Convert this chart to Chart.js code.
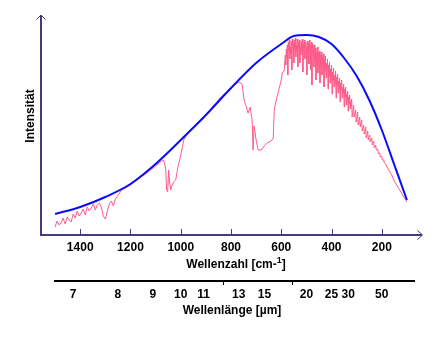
<!DOCTYPE html>
<html>
<head>
<meta charset="utf-8">
<script src="https://cdn.jsdelivr.net/npm/chart.js@4/dist/chart.umd.min.js"></script>
<style>
  html, body { margin: 0; padding: 0; background: #ffffff; }
  #wrap { width: 433px; height: 338px; }
</style>
</head>
<body>
<div id="wrap"><canvas id="c" width="433" height="338"></canvas></div>
<script>
// Wavenumber ticks [cm-1] of the main axis
const wavenumberTicks = [1400, 1200, 1000, 800, 600, 400, 200];
// Wavelength labels [µm] of the secondary axis, and unlabeled marks
const wavelengthLabels = [7, 8, 9, 10, 11, 13, 15, 20, 25, 30, 50];
const wavelengthMarks = [12, 18];

// Blackbody envelope (relative intensity)
const planckWavenumber = [1500, 1400, 1300, 1200, 1100, 1000, 900, 800, 700, 600, 550, 500, 450, 400, 350, 300, 250, 200, 150, 100];
const planckIntensity  = [21, 28, 38, 51, 71, 95, 120, 147, 172, 191, 199, 200, 198, 191, 177, 159, 135, 105, 70, 35];

// Measured outgoing spectrum (relative intensity)
const spectrumWavenumber = [
  1500, 1492, 1484, 1476, 1468, 1460, 1452, 1444, 1436, 1428, 1420, 1412, 1404, 1396, 1388, 1380,
  1372, 1364, 1356, 1348, 1340, 1332, 1324, 1316, 1308, 1300, 1292, 1284, 1276, 1268, 1260, 1248,
  1236, 1220, 1200, 1180, 1160, 1140, 1120, 1100, 1080, 1068, 1060, 1056, 1052, 1048, 1044, 1040,
  1036, 1028, 1020, 1012, 1000, 988, 972, 952, 920, 880, 840, 800, 780, 768, 756, 748, 740, 732,
  724, 716, 712, 708, 700, 692, 680, 668, 656, 640, 632, 628, 620, 612, 608, 600, 596, 588,
  584, 582, 580, 578, 576, 574, 572, 570, 568, 566, 564, 562, 560, 558, 556, 554, 552, 550,
  548, 546, 544, 542, 540, 538, 536, 534, 532, 530, 528, 526, 524, 522, 520, 518, 516, 514,
  512, 510, 508, 506, 504, 502, 500, 498, 496, 494, 492, 490, 488, 486, 484, 482, 480, 478,
  476, 474, 472, 470, 468, 466, 464, 462, 460, 458, 456, 454, 452, 450, 448, 446, 444, 442,
  440, 438, 436, 434, 432, 430, 428, 426, 424, 422, 420, 418, 416, 414, 412, 410, 408, 406,
  404, 402, 400, 398, 396, 394, 392, 390, 388, 386, 384, 382, 380, 378, 376, 374, 372, 370,
  368, 366, 364, 362, 360, 358, 356, 354, 352, 350, 348, 346, 344, 342, 340, 338, 336, 334,
  332, 330, 328, 326, 324, 322, 320, 318,
  312, 310, 304, 302, 296, 294, 288, 286, 280, 278, 272, 270, 264, 262, 256, 254, 248, 246,
  240, 238, 232, 230, 224, 222, 216, 214, 208, 206, 200, 198, 192, 190, 184, 182, 176, 174,
  168, 166, 160, 158, 148, 136, 124, 112, 100
];
const spectrumIntensity = [
  8, 14, 10, 12, 17, 11, 18, 15, 13, 21, 17, 24, 19, 22, 26, 20,
  28, 24, 27, 31, 25, 30, 32, 28, 19, 16, 24, 31, 34, 29, 36, 40,
  45, 47, 50, 54, 58, 61, 65, 69, 73, 75, 67, 45, 43, 65, 53, 45,
  49, 53, 55, 67, 80, 95, 102, 107, 114, 126, 138, 146, 151, 153, 151, 135, 129, 122,
  128, 115, 85, 109, 95, 85, 85, 89, 92, 94, 97, 125, 135, 143, 147, 155, 162, 165,
  180, 170, 186, 178, 190, 160, 193, 184, 195, 176, 188, 181, 194, 165, 196, 190, 192, 172,
  195, 186, 197, 178, 190, 183, 196, 168, 193, 188, 195, 172, 189, 180, 194, 185, 196, 163,
  191, 184, 195, 176, 193, 187, 188, 160, 194, 181, 192, 171, 195, 186, 190, 165, 193, 150,
  191, 182, 186, 168, 190, 176, 187, 155, 183, 170, 188, 162, 182, 177, 184, 152, 180, 168,
  183, 160, 178, 171, 181, 148, 176, 164, 179, 157, 172, 167, 176, 146, 170, 160, 173, 152,
  166, 158, 170, 141, 163, 155, 167, 148, 160, 152, 164, 137, 158, 150, 161, 142, 154, 146,
  157, 133, 152, 145, 155, 137, 148, 142, 151, 128, 146, 138, 148, 130, 141, 135, 144, 124,
  138, 131, 140, 126, 134, 129, 136, 118,
  130, 118, 125, 113, 123, 110, 118, 108, 115, 104, 110, 101, 108, 97, 104, 95, 100, 93,
  97, 90, 94, 87, 90, 85, 86, 81, 82, 78, 79, 75, 75, 72, 71, 69, 67, 65,
  64, 62, 60, 58, 53, 48, 43, 38, 33
];

const FONT = '"Liberation Sans", Arial, Helvetica, sans-serif';
const AXIS_COLOR = '#453b7c';

function toPoints(xs, ys) {
  return xs.map((x, i) => ({ x: x, y: ys[i] }));
}

// Axes with arrowheads, inner ticks, titles and the wavelength scale
const framePlugin = {
  id: 'frame',
  afterDraw(chart) {
    const ctx = chart.ctx;
    const a = chart.chartArea;
    const xs = chart.scales.x;
    ctx.save();

    // axis lines
    ctx.strokeStyle = AXIS_COLOR;
    ctx.lineWidth = 2;
    ctx.beginPath();
    ctx.moveTo(a.left, a.top + 1);
    ctx.lineTo(a.left, a.bottom);
    ctx.lineTo(a.right + 1, a.bottom);
    ctx.stroke();

    // arrowheads
    ctx.lineWidth = 1;
    ctx.beginPath();
    ctx.moveTo(a.left - 4.5, a.top + 4.5);
    ctx.lineTo(a.left, a.top);
    ctx.lineTo(a.left + 4.5, a.top + 4.5);
    ctx.moveTo(a.right - 3.5, a.bottom - 4.5);
    ctx.lineTo(a.right + 1.5, a.bottom);
    ctx.lineTo(a.right - 3.5, a.bottom + 4.5);
    ctx.stroke();

    // inner tick marks on the wavenumber axis
    ctx.beginPath();
    wavenumberTicks.forEach(v => {
      const px = Math.round(xs.getPixelForValue(v)) + 0.5;
      ctx.moveTo(px, a.bottom - 6);
      ctx.lineTo(px, a.bottom);
    });
    ctx.stroke();

    ctx.fillStyle = '#000000';

    // wavenumber title with superscript
    const t1 = 'Wellenzahl [cm-';
    const t2 = '1';
    const t3 = ']';
    ctx.font = 'bold 12px ' + FONT;
    const w1 = ctx.measureText(t1).width;
    const w3 = ctx.measureText(t3).width;
    ctx.font = 'bold 9px ' + FONT;
    const w2 = ctx.measureText(t2).width;
    const total = w1 + w2 + w3;
    const tx = 236 - total / 2;
    const ty = 268;
    ctx.textAlign = 'left';
    ctx.textBaseline = 'alphabetic';
    ctx.font = 'bold 12px ' + FONT;
    ctx.fillText(t1, tx, ty);
    ctx.font = 'bold 9px ' + FONT;
    ctx.fillText(t2, tx + w1, ty - 5);
    ctx.font = 'bold 12px ' + FONT;
    ctx.fillText(t3, tx + w1 + w2, ty);

    // wavelength scale
    const lineY = 281;
    ctx.strokeStyle = '#000000';
    ctx.lineWidth = 2;
    ctx.beginPath();
    ctx.moveTo(54, lineY);
    ctx.lineTo(415, lineY);
    ctx.stroke();
    ctx.lineWidth = 1;
    ctx.beginPath();
    wavelengthMarks.forEach(um => {
      const px = Math.round(xs.getPixelForValue(10000 / um)) + 0.5;
      ctx.moveTo(px, lineY);
      ctx.lineTo(px, lineY + 4);
    });
    ctx.stroke();

    ctx.font = 'bold 12px ' + FONT;
    ctx.textAlign = 'center';
    ctx.textBaseline = 'alphabetic';
    wavelengthLabels.forEach(um => {
      const px = xs.getPixelForValue(10000 / um);
      ctx.fillText(String(um), px, 298);
    });
    ctx.fillText('Wellenlänge [µm]', 232, 314);

    // vertical title
    ctx.save();
    ctx.translate(34, 116);
    ctx.rotate(-Math.PI / 2);
    ctx.textAlign = 'center';
    ctx.textBaseline = 'alphabetic';
    ctx.fillText('Intensität', 0, 0);
    ctx.restore();

    ctx.restore();
  }
};

new Chart(document.getElementById('c'), {
  type: 'line',
  data: {
    datasets: [
      {
        label: 'Planck',
        data: toPoints(planckWavenumber, planckIntensity),
        borderColor: '#0a0aff',
        borderWidth: 2,
        pointRadius: 0,
        cubicInterpolationMode: 'monotone',
        fill: false
      },
      {
        label: 'Spektrum',
        data: toPoints(spectrumWavenumber, spectrumIntensity),
        borderColor: '#ff5c8a',
        borderWidth: 1,
        pointRadius: 0,
        tension: 0,
        fill: false
      }
    ]
  },
  options: {
    responsive: false,
    animation: false,
    devicePixelRatio: 1,
    layout: { padding: { left: 41, top: 15, right: 12, bottom: 0 } },
    plugins: { legend: { display: false }, tooltip: { enabled: false } },
    scales: {
      x: {
        type: 'linear',
        reverse: true,
        min: 44,
        max: 1556,
        grid: { display: false, drawTicks: false },
        border: { display: false },
        afterBuildTicks: (scale) => { scale.ticks = wavenumberTicks.map(v => ({ value: v })); },
        afterFit: (scale) => { scale.height = 103; },
        ticks: {
          color: '#000000',
          font: { family: FONT, size: 12, weight: 'bold' },
          padding: 5,
          maxRotation: 0,
          autoSkip: false,
          callback: (v) => String(v)
        }
      },
      y: {
        display: false,
        min: 0,
        max: 220
      }
    }
  },
  plugins: [framePlugin]
});
</script>
</body>
</html>
